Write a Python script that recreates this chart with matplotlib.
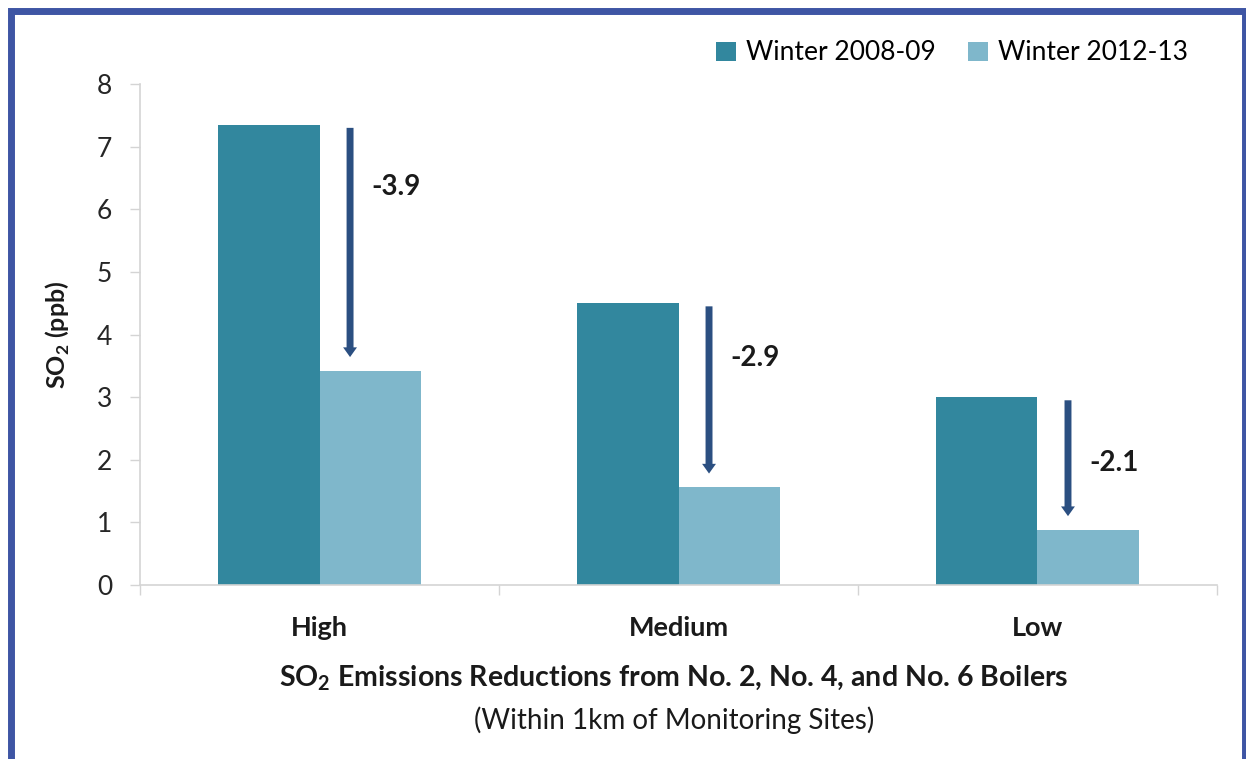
import matplotlib
matplotlib.use("Agg")
import matplotlib.pyplot as plt
import numpy as np
from matplotlib.patches import Rectangle

plt.rcParams["font.family"] = "Lato"
plt.rcParams["mathtext.fontset"] = "custom"
plt.rcParams["mathtext.rm"] = "Lato"
plt.rcParams["mathtext.bf"] = "Lato:bold"

# Datos: SO2 medio (ppb) por nivel de reduccion de emisiones
categorias = ["High", "Medium", "Low"]
invierno_0809 = [7.35, 4.50, 3.00]
invierno_1213 = [3.42, 1.56, 0.88]
cambios = ["-3.9", "-2.9", "-2.1"]
series = ["Winter 2008-09", "Winter 2012-13"]

COLOR_OSCURO = "#32879E"
COLOR_CLARO = "#7FB7CB"
COLOR_FLECHA = "#2B4F81"
COLOR_MARCO = "#3E55A4"
COLOR_EJE = "#D4D4D4"
COLOR_TEXTO = "#1A1A1A"

fig = plt.figure(figsize=(12.46, 7.59), dpi=100)
ax = fig.add_axes([0.1124, 0.2292, 0.8643, 0.6601])

x = np.arange(len(categorias))
ancho = 0.284
ax.bar(x - ancho / 2, invierno_0809, ancho, color=COLOR_OSCURO, label=series[0])
ax.bar(x + ancho / 2, invierno_1213, ancho, color=COLOR_CLARO, label=series[1])

# flechas de reduccion con su etiqueta
desplaz = 0.085
frac_etiqueta = [0.26, 0.31, 0.54]
for i in range(len(categorias)):
    y0 = invierno_0809[i] - 0.05
    y1 = invierno_1213[i] + 0.22
    xf = x[i] + desplaz
    ax.annotate("", xy=(xf, y1), xytext=(xf, y0),
                arrowprops=dict(arrowstyle="simple,head_width=0.5,head_length=0.35,tail_width=0.25",
                                fc=COLOR_FLECHA, ec="none", shrinkA=0, shrinkB=0,
                                mutation_scale=20))
    ax.text(xf + 0.06, y0 - (y0 - y1) * frac_etiqueta[i], cambios[i],
            fontsize=20, fontweight="bold", ha="left", va="center", color=COLOR_TEXTO)

ax.set_xlim(-0.5, 2.5)
ax.set_ylim(0, 8)
ax.set_yticks(range(0, 9))
ax.tick_params(axis="y", length=7, width=1, color=COLOR_EJE, labelsize=19, pad=13,
               labelcolor="#262626")

ax.set_xticks([-0.5, 0.5, 1.5, 2.5])
ax.set_xticklabels([])
ax.tick_params(axis="x", which="major", length=7, width=1, color=COLOR_EJE, direction="out")
ax.set_xticks(x, minor=True)
ax.set_xticklabels(categorias, minor=True, fontsize=19.5, fontweight="bold", color=COLOR_TEXTO)
ax.tick_params(axis="x", which="minor", length=0, pad=22)

for lado in ["top", "right"]:
    ax.spines[lado].set_visible(False)
for lado in ["left", "bottom"]:
    ax.spines[lado].set_color(COLOR_EJE)
    ax.spines[lado].set_linewidth(1.2)

ax.set_ylabel(r"SO$_\mathbf{2}$ (ppb)", fontsize=18, fontweight="bold", color=COLOR_TEXTO)
ax.yaxis.set_label_coords(-0.063, 0.5)

fig.text(0.541, 1 - 678 / 759, r"SO$_\mathbf{2}$ Emissions Reductions from No. 2, No. 4, and No. 6 Boilers",
         fontsize=20.5, fontweight="bold", ha="center", va="center", color=COLOR_TEXTO)
fig.text(0.541, 1 - 720 / 759, "(Within 1km of Monitoring Sites)",
         fontsize=20, ha="center", va="center", color=COLOR_TEXTO)

ax.legend(loc="center right", bbox_to_anchor=(0.983, 1.062), ncol=2,
          frameon=False, fontsize=19, handlelength=0.75, handleheight=0.75,
          handletextpad=0.4, columnspacing=1.2, borderaxespad=0)

# marco azul alrededor de la figura
W, H = 1246, 759
fig.add_artist(Rectangle((10.5 / W, -0.05), (1244.5 - 10.5) / W, 1.05 - 10.5 / H,
                         transform=fig.transFigure, fill=False,
                         ec=COLOR_MARCO, lw=5.0, clip_on=False))

fig.savefig("out.png", dpi=100)
